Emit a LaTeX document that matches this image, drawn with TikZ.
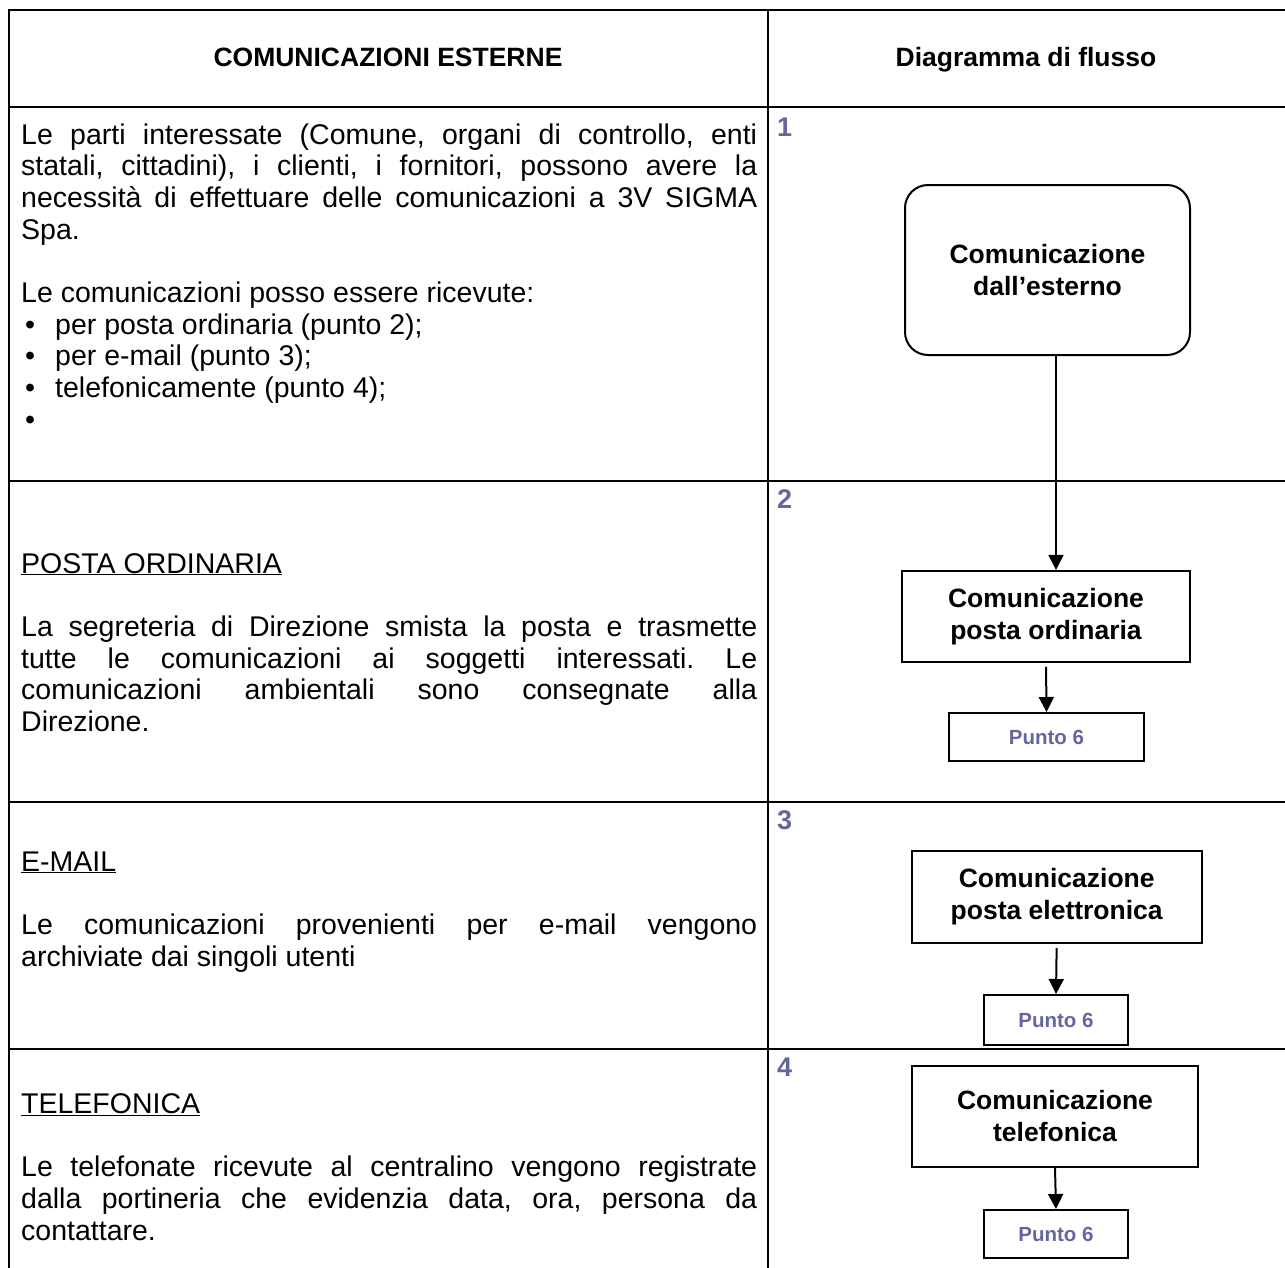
\documentclass[tikz,border=0pt]{standalone}
\usepackage{fontspec}
\setmainfont{Liberation Sans}
\usetikzlibrary{arrows.meta}
\definecolor{stepcol}{RGB}{102,102,158}
\newcommand\jline[1]{\makebox[736pt][s]{#1}}
\newcommand\bitem[1]{\makebox[34pt][l]{\hspace*{4pt}\textbullet}#1}
\frenchspacing

\begin{document}
\begin{tikzpicture}[x=1pt,y=-1pt,>={Triangle[length=15pt,width=15pt]},
  rule/.style={line width=2.4pt,line cap=rect},
  bodytext/.style={anchor=base west,align=left,inner sep=0pt,font=\fontsize{28.5}{31.7}\selectfont},
  headtext/.style={anchor=base,inner sep=0pt,font=\fontsize{26.5}{32}\selectfont\bfseries},
  stepno/.style={anchor=base west,inner sep=0pt,text=stepcol,font=\fontsize{27}{32}\selectfont\bfseries},
  flowbox/.style={draw,line width=2pt,align=center,inner sep=0pt,font=\fontsize{26.5}{32}\selectfont\bfseries},
  puntobox/.style={draw,line width=2pt,inner sep=0pt,text=stepcol,font=\fontsize{20.5}{24}\selectfont\bfseries},
  flowarrow/.style={->,line width=2pt}]
\useasboundingbox (0,0) rectangle (1285,1267);
% table
\draw[rule] (1285,10) -- (9,10) -- (9,1267);
\draw[rule] (767.7,10) -- (767.7,1267);
\draw[rule] (9,107) -- (1285,107);
\draw[rule] (9,481) -- (1285,481);
\draw[rule] (9,802) -- (1285,802);
\draw[rule] (9,1049) -- (1285,1049);
\node[headtext] (hleft) at (388,66.7) {COMUNICAZIONI ESTERNE};
\node[headtext] (hright) at (1026,66.7) {Diagramma di flusso};
% left column (base = last line)
\node[bodytext] (intro) at (21,429.3) {\jline{Le parti interessate (Comune, organi di controllo, enti}\\
  \jline{statali, cittadini), i clienti, i fornitori, possono avere la}\\
  \jline{necessità di effettuare delle comunicazioni a 3V SIGMA}\\
  Spa.\\[31.7pt]
  Le comunicazioni posso essere ricevute:\\
  \bitem{per posta ordinaria (punto 2);}\\
  \bitem{per e-mail (punto 3);}\\
  \bitem{telefonicamente (punto 4);}\\
  \bitem{}};
\node[bodytext] (posta) at (21,731.5) {\underline{POSTA ORDINARIA}\\[31.7pt]
  \jline{La segreteria di Direzione smista la posta e trasmette}\\
  \jline{tutte le comunicazioni ai soggetti interessati. Le}\\
  \jline{comunicazioni ambientali sono consegnate alla}\\
  Direzione.};
\node[bodytext] (email) at (21,966.1) {\underline{E-MAIL}\\[31.7pt]
  \jline{Le comunicazioni provenienti per e-mail vengono}\\
  archiviate dai singoli utenti};
\node[bodytext] (phone) at (21,1240.1) {\underline{TELEFONICA}\\[31.7pt]
  \jline{Le telefonate ricevute al centralino vengono registrate}\\
  \jline{dalla portineria che evidenzia data, ora, persona da}\\
  contattare.};
% right column
\node[stepno] (n1) at (777,136) {1};
\node[stepno] (n2) at (777,508) {2};
\node[stepno] (n3) at (777,829) {3};
\node[stepno] (n4) at (777,1076) {4};
\node[flowbox,rounded corners=23pt,minimum width=285pt,minimum height=170pt] (ext) at (1047.5,270) {Comunicazione\\dall’esterno};
\node[flowbox,minimum width=288pt,minimum height=91pt] (post) at (1046,616.4) {Comunicazione\\posta ordinaria};
\node[flowbox,minimum width=290pt,minimum height=92pt] (mail) at (1056.7,897) {Comunicazione\\posta elettronica};
\node[flowbox,minimum width=286pt,minimum height=101pt] (tel) at (1055,1116.5) {Comunicazione\\telefonica};
\node[puntobox,minimum width=195pt,minimum height=48pt] (pt2) at (1046.5,737) {Punto 6};
\node[puntobox,minimum width=144pt,minimum height=50pt] (pt3) at (1056,1020) {Punto 6};
\node[puntobox,minimum width=144pt,minimum height=48pt] (pt4) at (1056,1234) {Punto 6};
\draw[flowarrow] ([xshift=8.5pt]ext.south) -- ([xshift=10pt]post.north);
\draw[flowarrow,shorten <=4pt] (post.south) -- (pt2.north);
\draw[flowarrow,shorten <=4pt] (mail.south) -- (pt3.north);
\draw[flowarrow] (tel.south) -- (pt4.north);
\end{tikzpicture}
\end{document}
